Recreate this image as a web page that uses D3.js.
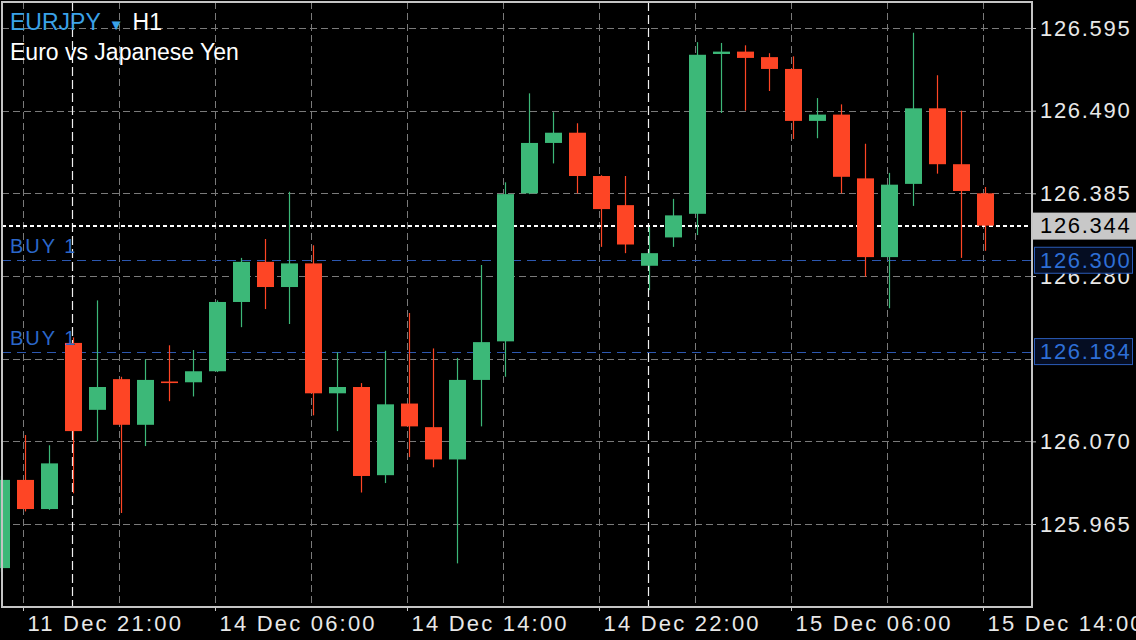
<!DOCTYPE html>
<html><head><meta charset="utf-8">
<script src="https://cdn.jsdelivr.net/npm/d3@7"></script>
<style>
html,body{margin:0;padding:0;background:#000;}
svg{display:block;}
text{font-family:"Liberation Sans",Arial,Helvetica,sans-serif;}
</style></head>
<body>
<svg id="chart" width="1136" height="640"></svg>
<script>
const times = [
 "11 Dec 20:00","11 Dec 21:00","11 Dec 22:00",
 "14 Dec 00:00","14 Dec 01:00","14 Dec 02:00","14 Dec 03:00","14 Dec 04:00","14 Dec 05:00",
 "14 Dec 06:00","14 Dec 07:00","14 Dec 08:00","14 Dec 09:00","14 Dec 10:00","14 Dec 11:00",
 "14 Dec 12:00","14 Dec 13:00","14 Dec 14:00","14 Dec 15:00","14 Dec 16:00","14 Dec 17:00",
 "14 Dec 18:00","14 Dec 19:00","14 Dec 20:00","14 Dec 21:00","14 Dec 22:00","14 Dec 23:00",
 "15 Dec 00:00","15 Dec 01:00","15 Dec 02:00","15 Dec 03:00","15 Dec 04:00","15 Dec 05:00",
 "15 Dec 06:00","15 Dec 07:00","15 Dec 08:00","15 Dec 09:00","15 Dec 10:00","15 Dec 11:00",
 "15 Dec 12:00","15 Dec 13:00","15 Dec 14:00"
];
const open = [125.909,126.021,125.984,126.195,126.110,126.149,126.091,126.146,126.145,126.159,
 126.247,126.298,126.266,126.296,126.131,126.139,126.027,126.118,126.088,126.047,
 126.148,126.197,126.385,126.449,126.462,126.407,126.370,126.293,126.329,126.359,
 126.562,126.565,126.558,126.543,126.477,126.485,126.404,126.304,126.397,126.493,
 126.422,126.385];
const high = [126.026,126.078,126.065,126.202,126.249,126.152,126.174,126.192,126.186,126.249,
 126.303,126.327,126.387,126.319,126.183,126.144,126.185,126.233,126.188,126.176,
 126.294,126.399,126.512,126.488,126.474,126.408,126.407,126.342,126.378,126.577,
 126.576,126.573,126.563,126.559,126.506,126.498,126.448,126.411,126.589,126.535,
 126.490,126.393];
const low = [125.904,125.981,125.983,126.004,126.070,125.979,126.064,126.121,126.127,126.158,
 126.215,126.238,126.219,126.103,126.083,126.005,126.017,126.050,126.037,125.915,
 126.089,126.152,126.384,126.423,126.385,126.317,126.309,126.262,126.317,126.332,
 126.487,126.490,126.515,126.454,126.455,126.385,126.279,126.239,126.369,126.410,
 126.303,126.312];
const close = [126.021,125.984,126.042,126.083,126.139,126.091,126.148,126.144,126.159,126.247,
 126.298,126.266,126.296,126.131,126.139,126.026,126.117,126.089,126.047,126.148,
 126.196,126.384,126.449,126.462,126.407,126.365,126.320,126.309,126.357,126.561,
 126.565,126.557,126.543,126.477,126.485,126.406,126.304,126.396,126.493,126.422,
 126.388,126.344];

const yGrid = [126.595,126.490,126.385,126.280,126.175,126.070,125.965];
const yTickLabels = [126.595,126.490,126.385,126.280,126.070,125.965];
const xTickLabels = ["11 Dec 21:00","14 Dec 06:00","14 Dec 14:00","14 Dec 22:00","15 Dec 06:00","15 Dec 14:00"];
const gridTimes = ["11 Dec 21:00","14 Dec 02:00","14 Dec 06:00","14 Dec 10:00","14 Dec 14:00","14 Dec 18:00",
 "14 Dec 22:00","15 Dec 02:00","15 Dec 06:00","15 Dec 10:00","15 Dec 14:00"];
const separatorTimes = ["14 Dec 00:00","15 Dec 00:00"];
const orderLabels = ["BUY 1","BUY 1"];
const orderPrices = [126.300,126.184];
const currentPrice = 126.344;
const symbol = "EURJPY", timeframe = "H1", description = "Euro vs Japanese Yen";

const W = 1136, H = 640;
const plot = {left: 2, top: 2, right: 1032, bottom: 607};
const UP = "#3cb878", DOWN = "#fe4525";

const candles = times.map((t,i)=>({t, o:open[i], h:high[i], l:low[i], c:close[i]}));

const svg = d3.select("#chart");
svg.append("rect").attr("width",W).attr("height",H).attr("fill","#000");

const x = d3.scaleBand().domain(times).range([-11, -11 + 24*times.length]).padding(0);
const cx = t => x(t) + x.bandwidth()/2;
const gx = t => Math.round(cx(t)) - 2 + 0.5;
const y = d3.scaleLinear().domain([125.965,126.595]).range([524,28]);

svg.append("defs").append("clipPath").attr("id","clip")
  .append("rect").attr("x",0).attr("y",plot.top).attr("width",plot.right).attr("height",plot.bottom-plot.top);

const g = svg.append("g").attr("clip-path","url(#clip)");

// horizontal grid
g.selectAll("line.hg").data(yGrid).join("line").attr("class","hg")
  .attr("x1",plot.left).attr("x2",plot.right)
  .attr("y1",d=>Math.round(y(d))+0.5).attr("y2",d=>Math.round(y(d))+0.5)
  .attr("stroke","#7a7a7a").attr("stroke-width",1).attr("stroke-dasharray","7,4");
// vertical grid
g.selectAll("line.vg").data(gridTimes).join("line").attr("class","vg")
  .attr("x1",gx).attr("x2",gx).attr("y1",plot.top).attr("y2",plot.bottom)
  .attr("stroke","#7a7a7a").attr("stroke-width",1).attr("stroke-dasharray","7,4");
// day separators
g.selectAll("line.sep").data(separatorTimes).join("line").attr("class","sep")
  .attr("x1",d=>gx(d)+1).attr("x2",d=>gx(d)+1).attr("y1",plot.top).attr("y2",plot.bottom)
  .attr("stroke","#f0f0f0").attr("stroke-width",1.2).attr("stroke-dasharray","9,4");
// order lines
g.selectAll("line.ord").data(orderPrices).join("line").attr("class","ord")
  .attr("x1",plot.left).attr("x2",plot.right)
  .attr("y1",d=>Math.round(y(d))+0.5).attr("y2",d=>Math.round(y(d))+0.5)
  .attr("stroke","#2d58b0").attr("stroke-width",1).attr("stroke-dasharray","9,6");
// current price line
g.append("line").attr("x1",plot.left).attr("x2",plot.right)
  .attr("y1",Math.round(y(currentPrice))).attr("y2",Math.round(y(currentPrice)))
  .attr("stroke","#ffffff").attr("stroke-width",2).attr("stroke-dasharray","4,3");

// candles
const cg = g.selectAll("g.c").data(candles).join("g").attr("class","c");
cg.append("line")
  .attr("x1",d=>Math.round(cx(d.t))+0.5).attr("x2",d=>Math.round(cx(d.t))+0.5)
  .attr("y1",d=>y(d.h)).attr("y2",d=>y(d.l))
  .attr("stroke",d=>d.c>=d.o?UP:DOWN).attr("stroke-width",1.2);
cg.append("rect")
  .attr("x",d=>Math.round(cx(d.t))-8).attr("width",17)
  .attr("y",d=>y(Math.max(d.o,d.c)))
  .attr("height",d=>Math.max(1.5, Math.abs(y(d.o)-y(d.c))))
  .attr("fill",d=>d.c>=d.o?UP:DOWN);

// order labels
g.selectAll("text.ol").data(orderPrices).join("text").attr("class","ol")
  .attr("x",10).attr("y",d=>y(d)-7)
  .attr("fill","#2b67c9").attr("font-size",20).attr("letter-spacing",2)
  .text((d,i)=>orderLabels[i]);

// frame
svg.append("rect").attr("x",plot.left).attr("y",plot.top)
  .attr("width",plot.right-plot.left).attr("height",plot.bottom-plot.top)
  .attr("fill","none").attr("stroke","#c4c4c4").attr("stroke-width",2);

// right axis
const yAxis = svg.append("g").attr("transform",`translate(${plot.right},0)`)
  .call(d3.axisRight(y).tickValues(yTickLabels).tickSize(4).tickPadding(4).tickFormat(d3.format(".3f")));
yAxis.select(".domain").remove();
yAxis.selectAll("line").attr("stroke","#c4c4c4");
yAxis.selectAll("text").attr("fill","#e8e8e8").attr("font-size",22).attr("letter-spacing",1.7)
  .attr("font-family","Liberation Sans, Arial, sans-serif");

// bottom axis
const xAxis = svg.append("g").attr("transform",`translate(-1.5,${plot.bottom})`)
  .call(d3.axisBottom(x).tickValues(xTickLabels).tickSize(4).tickPadding(6));
xAxis.select(".domain").remove();
xAxis.selectAll("line").attr("stroke","#c4c4c4");
xAxis.selectAll("text").attr("fill","#e8e8e8").attr("font-size",22).attr("letter-spacing",2.2)
  .attr("text-anchor","start").attr("dx",4).attr("dy","0.64em")
  .attr("font-family","Liberation Sans, Arial, sans-serif");

// current price box
const cpY = y(currentPrice);
svg.append("rect").attr("x",plot.right+1).attr("y",cpY-13).attr("width",W-plot.right-1).attr("height",27)
  .attr("fill","#c8c8c8");
svg.append("text").attr("x",plot.right+8).attr("y",cpY).attr("dy","0.35em")
  .attr("fill","#000").attr("font-size",22).attr("letter-spacing",1.7)
  .text(d3.format(".3f")(currentPrice));

// order boxes
orderPrices.forEach(p=>{
  const yy = y(p);
  svg.append("rect").attr("x",plot.right+2.5).attr("y",yy-13).attr("width",98).attr("height",26)
    .attr("fill","#050d22").attr("stroke","#2b5cb8").attr("stroke-width",1);
  svg.append("text").attr("x",plot.right+8).attr("y",yy).attr("dy","0.35em")
    .attr("fill","#2e6fd6").attr("font-size",22).attr("letter-spacing",1.7)
    .text(d3.format(".3f")(p));
});

// title
const t1 = svg.append("text").attr("x",10).attr("y",30).attr("font-size",23);
t1.append("tspan").attr("fill","#3aa2e8").text(symbol);
t1.append("tspan").attr("fill","#3aa2e8").attr("font-size",15).attr("dx",8).text("▼");
t1.append("tspan").attr("fill","#ffffff").attr("dx",9).text(timeframe);
svg.append("text").attr("x",10).attr("y",60).attr("font-size",23).attr("fill","#ffffff").text(description);
</script>
</body></html>
